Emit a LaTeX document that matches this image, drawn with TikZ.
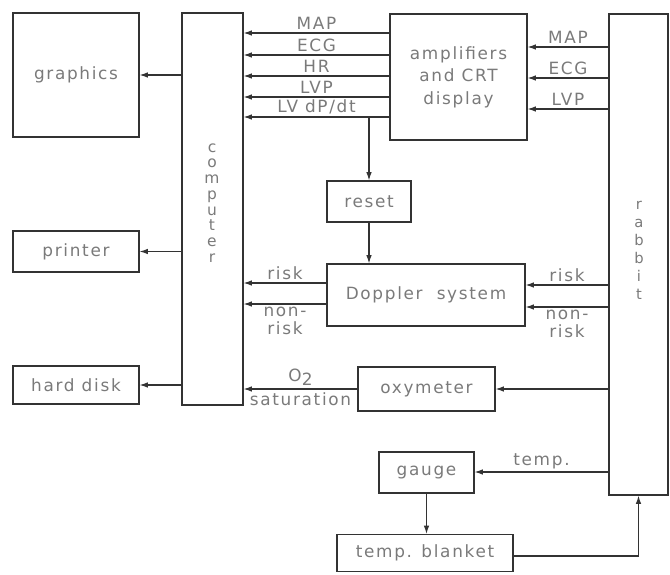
\documentclass[tikz,border=0pt]{standalone}
\usepackage{fontspec}
\newfontfamily\plotfont[LetterSpace=10]{DejaVu Sans}
\usetikzlibrary{arrows.meta}
\begin{document}
\begin{tikzpicture}[x=0.025cm,y=-0.025cm,
 box/.style={draw=black!80, line width=0.8pt, inner sep=0pt, font=\plotfont\fontsize{12}{16}\selectfont, text=black!52, align=center},
 sz/.style 2 args={minimum width=#1*0.025cm, minimum height=#2*0.025cm},
 arr/.style={draw=black!80, line width=0.8pt, -{Latex[length=2.1mm,width=1.4mm]}},
 ln/.style={draw=black!80, line width=0.8pt},
 lbl/.style={font=\plotfont\fontsize{12}{12.5}\selectfont, text=black!52, align=center, inner sep=2pt}]
\path[use as bounding box] (0,0) rectangle (670,574);
% boxes
\node[box, sz={126}{124}] (graphics) at (76,75) {graphics};
\node[box, sz={61}{392}] (computer) at (212.5,209) {};
\node[box, sz={126}{41}] (printer) at (76,251.5) {printer};
\node[box, sz={126}{38}] (disk) at (76,385) {hard disk};
\node[box, sz={137}{126}] (amp) at (458.5,77) {amplifiers\\and CRT\\display};
\node[box, sz={84}{41}] (reset) at (369,201.5) {reset};
\node[box, sz={198}{62}] (doppler) at (426,295) {Doppler\ \ system};
\node[box, sz={137}{44}] (oxy) at (426.5,389) {oxymeter};
\node[box, sz={59}{481}] (rabbit) at (638.5,254.5) {};
\node[box, sz={95}{41}] (gauge) at (426.5,472.5) {gauge};
\node[box, sz={176}{37}] (blanket) at (425,553) {temp. blanket};
% stacked texts
\node[lbl, font=\plotfont\fontsize{11}{11.2}\selectfont] (comptext) at (212,203) {c\\o\\m\\p\\u\\t\\e\\r};
\node[lbl, font=\plotfont\fontsize{10.5}{12.8}\selectfont] (rabbittext) at (639,250) {r\\a\\b\\b\\i\\t};
% helper coordinates
\coordinate (yMAP) at (0,33);
\coordinate (yECG) at (0,55);
\coordinate (yHR) at (0,76);
\coordinate (yLVP) at (0,97);
\coordinate (yDP) at (0,117);
\coordinate (rMAP) at (0,47);
\coordinate (rECG) at (0,78);
\coordinate (rLVP) at (0,109);
\coordinate (yRiskL) at (0,283);
\coordinate (yNonL) at (0,304);
\coordinate (yRiskR) at (0,285);
\coordinate (yNonR) at (0,307);
\coordinate (yO2) at (0,389);
\coordinate (yTemp) at (0,472);
\coordinate (yBl) at (0,556);
% computer outputs
\draw[arr] (computer.west |- graphics) -- (graphics.east);
\draw[arr] (computer.west |- printer) -- (printer.east);
\draw[arr] (computer.west |- disk) -- (disk.east);
% amplifier outputs
\draw[arr] (amp.west |- yMAP) -- node[lbl,above]{MAP} (computer.east |- yMAP);
\draw[arr] (amp.west |- yECG) -- node[lbl,above]{ECG} (computer.east |- yECG);
\draw[arr] (amp.west |- yHR) -- node[lbl,above]{HR} (computer.east |- yHR);
\draw[arr] (amp.west |- yLVP) -- node[lbl,above]{LVP} (computer.east |- yLVP);
\draw[arr] (amp.west |- yDP) -- node[lbl,above]{LV dP/dt} (computer.east |- yDP);
\draw[arr] (reset.north |- yDP) -- (reset.north);
\draw[arr] (reset.south) -- (reset.south |- doppler.north);
% rabbit to amplifiers
\draw[arr] (rabbit.west |- rMAP) -- node[lbl,above]{MAP} (amp.east |- rMAP);
\draw[arr] (rabbit.west |- rECG) -- node[lbl,above]{ECG} (amp.east |- rECG);
\draw[arr] (rabbit.west |- rLVP) -- node[lbl,above]{LVP} (amp.east |- rLVP);
% doppler
\draw[arr] (doppler.west |- yRiskL) -- node[lbl,above]{risk} (computer.east |- yRiskL);
\draw[arr] (doppler.west |- yNonL) -- node[lbl,below]{non-\\risk} (computer.east |- yNonL);
\draw[arr] (rabbit.west |- yRiskR) -- node[lbl,above]{risk} (doppler.east |- yRiskR);
\draw[arr] (rabbit.west |- yNonR) -- node[lbl,below]{non-\\risk} (doppler.east |- yNonR);
% oxymeter
\draw[arr] (rabbit.west |- yO2) -- (oxy.east |- yO2);
\draw[arr] (oxy.west |- yO2) -- node[lbl,above]{O\raisebox{-0.45ex}{2}} node[lbl,below]{saturation} (computer.east |- yO2);
% temperature
\draw[arr] (rabbit.west |- yTemp) -- node[lbl,above]{temp.} (gauge.east |- yTemp);
\draw[arr] (gauge.south) -- (gauge.south |- blanket.north);
\draw[arr] (blanket.east |- yBl) -| (rabbit.south);
\end{tikzpicture}
\end{document}
